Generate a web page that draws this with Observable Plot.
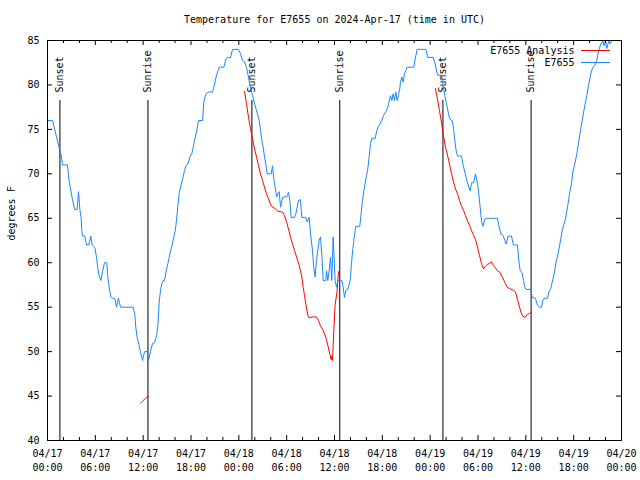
<!DOCTYPE html>
<html><head><meta charset="utf-8">
<script src="https://cdn.jsdelivr.net/npm/d3@7"></script>
<script src="https://cdn.jsdelivr.net/npm/@observablehq/plot@0.6"></script>
<style>body{margin:0;background:#fff;} svg{display:block}</style>
</head><body><div id="chart"></div>
<script>
const title = "Temperature for E7655 on 2024-Apr-17 (time in UTC)";
const yLabel = "degrees F";
const seriesNames = ["E7655 Analysis", "E7655"];
const seriesColors = ["#ff0000", "#1a86ff"];

// hours since 04/17 00:00 UTC, temperature in °F
const observed = [[0,76],[0.63,76],[1.55,72.6],[1.75,72],[1.88,71],[2.51,71],[2.68,69.4],[2.89,68.3],[3.14,67.1],[3.39,66],[3.72,66],[3.89,68],[4.06,66],[4.22,65],[4.31,63.6],[4.39,63],[4.68,63],[4.89,62],[5.18,62],[5.44,63],[5.60,62],[5.94,61.7],[6.15,60.6],[6.31,59.4],[6.48,58.5],[6.69,58],[6.90,59],[7.15,60],[7.44,60],[7.53,58.7],[7.73,57.2],[7.94,56.2],[8.15,56],[8.44,56],[8.65,55],[8.90,56],[9.16,55],[10.74,55],[10.95,54.2],[11.08,52.7],[11.25,51.6],[11.46,50.8],[11.66,50],[11.92,49],[12.17,50],[12.51,50],[12.67,49],[12.92,50],[13.17,50.9],[13.43,51],[13.68,51.8],[13.84,52.8],[13.93,54.3],[14.01,55.6],[14.18,56.9],[14.35,57.7],[14.51,58],[14.68,58],[14.85,58.9],[15.10,59.9],[15.35,61],[15.60,61.9],[15.85,62.9],[16.02,63.6],[16.19,64.8],[16.35,66.4],[16.52,67.8],[16.69,68.5],[16.94,69.4],[17.19,70.4],[17.36,70.9],[17.61,71.1],[17.86,71.9],[18.11,72.3],[18.28,73],[18.44,73.75],[18.69,74.7],[18.94,76],[19.45,76],[19.61,78.1],[19.86,79],[20.20,79.2],[20.70,79.2],[20.95,80.1],[21.20,81.1],[21.54,82],[22.12,82],[22.37,82.9],[22.62,83.1],[22.96,83.1],[23.21,84],[23.96,84],[24.21,83.5],[24.46,82.75],[24.71,82.6],[24.96,82],[25.13,81.25],[25.38,80.1],[25.72,78.8],[25.97,77.9],[26.22,77.1],[26.38,76.6],[26.55,76],[26.72,74.9],[26.89,73.75],[27.05,73],[27.22,71.9],[27.39,71.1],[27.55,70],[28.06,70],[28.22,70.9],[28.39,69.4],[28.56,68.5],[28.73,67.4],[28.89,67.75],[29.06,68],[29.23,66.25],[29.39,67],[29.56,67.4],[29.98,67.4],[30.23,67.9],[30.40,67],[30.56,65.1],[30.98,65.1],[31.15,65.5],[31.32,66.25],[31.48,67],[31.73,67.1],[31.90,65.1],[32.40,65.1],[32.57,64.6],[32.82,65.1],[32.99,63.25],[33.24,61.4],[33.41,59.3],[33.57,58.4],[33.74,60.25],[33.91,61.4],[34.08,62.5],[34.24,62.9],[34.41,61],[34.58,58],[34.91,58],[35.00,59.1],[35.16,58],[35.33,59.1],[35.50,60.6],[35.66,58],[35.83,62.9],[36.08,58],[36.25,57.25],[36.42,58],[36.92,58],[37.09,57.25],[37.25,56.1],[37.42,56.9],[37.67,57],[38.01,58.2],[38.09,59.5],[38.26,61.2],[38.42,62.5],[38.59,63.6],[38.67,64.1],[39.17,64.1],[39.34,65.5],[39.51,67],[39.68,68.1],[39.84,68.9],[40.01,69.8],[40.18,70.6],[40.35,71.9],[40.51,73.4],[40.68,74],[41.10,74],[41.27,74.7],[41.43,75.2],[41.68,75.6],[41.93,76],[42.18,76.6],[42.44,77],[42.69,77.5],[42.85,78.1],[43.02,78.8],[43.19,78.25],[43.36,79],[43.52,78.25],[43.69,79.2],[43.86,78.25],[44.02,78.8],[44.19,79.6],[44.28,80.3],[44.44,80.9],[44.61,80.3],[44.78,81.25],[44.94,81.6],[45.11,82],[45.95,82],[46.11,82.9],[46.37,84],[47.45,84],[47.70,83.1],[48.37,83.1],[48.62,82.4],[48.92,81.1],[49.42,81.1],[49.59,80.1],[49.84,78.8],[50.09,77.7],[50.34,76.6],[50.51,76.1],[50.76,76],[50.93,75.1],[51.09,73.75],[51.26,72.6],[51.43,72],[51.93,72],[52.10,71.1],[52.35,70.2],[52.60,69.25],[52.85,68.5],[53.02,68.1],[53.19,69],[53.44,69],[53.69,70],[53.94,68.9],[54.10,67.75],[54.27,66.25],[54.44,64.75],[54.61,64.1],[54.86,64.9],[55.02,65],[56.45,65],[56.61,64.2],[56.86,63.25],[57.11,63.1],[57.37,62.5],[57.53,62.1],[57.78,63],[58.20,63],[58.45,62],[58.95,62],[59.12,60.25],[59.29,59.1],[59.54,58.9],[59.71,58],[59.87,57.25],[60.04,57],[60.63,57],[60.79,56.1],[61.21,56],[61.46,55.2],[61.71,55],[61.96,55],[62.13,55.75],[62.30,56],[62.72,56],[62.88,56.7],[63.13,57.1],[63.30,57.8],[63.55,58.75],[63.80,60.1],[64.05,61],[64.31,62.3],[64.56,63.6],[64.73,64.2],[64.97,64.9],[65.23,66.25],[65.48,67.75],[65.73,68.9],[65.89,70.2],[66.14,71.1],[66.40,72.25],[66.65,73.75],[66.90,75.1],[67.15,76.4],[67.40,77.7],[67.65,78.8],[67.90,80.1],[68.15,81.25],[68.40,82],[68.65,82.2],[68.90,82.75],[69.15,83.9],[69.41,84.6],[69.66,85],[69.82,84.4],[69.99,85],[70.16,84.1],[70.41,85],[70.58,84.6],[70.83,85]];

const analysis1 = [[11.67,44.2],[12.0,44.5],[12.3,44.75],[12.7,45.0]];
const analysis2 = [[24.71,79.3],[24.96,77.9],[25.21,76.4],[25.46,75.1],[25.72,73.9],[25.97,72.8],[26.22,71.9],[26.47,70.9],[26.72,70],[26.97,69.25],[27.22,68.5],[27.47,67.75],[27.72,67.2],[27.97,66.6],[28.22,66.25],[28.56,66.1],[28.89,65.8],[29.48,65.7],[29.73,65.3],[29.98,64.6],[30.23,63.8],[30.48,62.9],[30.73,62.1],[30.98,61.4],[31.32,60.4],[31.57,59.7],[31.73,59.1],[31.90,58.4],[32.07,57.25],[32.24,56.3],[32.40,55.4],[32.65,54.1],[32.82,53.8],[33.24,53.9],[33.74,53.9],[33.99,53.5],[34.24,52.9],[34.58,52.4],[34.91,51.6],[35.16,50.7],[35.41,49.75],[35.58,49.1],[35.66,49.5],[35.75,49.0],[35.92,52.5],[36.08,55.3],[36.30,56.6],[36.50,59.0],[36.67,58.6]];
const analysis3 = [[48.67,79.6],[48.92,78.4],[49.17,77.1],[49.42,75.8],[49.67,74.3],[49.92,73],[50.17,72.1],[50.43,71.1],[50.68,70],[50.93,69.1],[51.18,68.3],[51.43,67.75],[51.68,67],[51.93,66.4],[52.18,65.9],[52.43,65.3],[52.68,64.75],[52.93,64.2],[53.19,63.6],[53.44,63.1],[53.69,62.6],[53.94,61.75],[54.19,60.8],[54.44,59.9],[54.69,59.3],[54.94,59.6],[55.19,59.8],[55.69,60.1],[55.94,59.7],[56.45,59.1],[56.78,58.9],[57.03,58.4],[57.37,57.8],[57.62,57.3],[57.95,57.1],[58.45,56.9],[58.70,56.7],[58.95,55.9],[59.20,55],[59.46,54.25],[59.71,53.9],[59.96,53.9],[60.21,54.2],[60.46,54.3],[60.71,54.4]];

const eventHours = [1.56, 12.6, 25.64, 36.66, 49.6, 60.66];
const eventLabels = ["Sunset", "Sunrise", "Sunset", "Sunrise", "Sunset", "Sunrise"];

const xTickHours = [0, 6, 12, 18, 24, 30, 36, 42, 48, 54, 60, 66, 72];
const xTickDates = ["04/17","04/17","04/17","04/17","04/18","04/18","04/18","04/18","04/19","04/19","04/19","04/19","04/20"];
const xTickTimes = ["00:00","06:00","12:00","18:00","00:00","06:00","12:00","18:00","00:00","06:00","12:00","18:00","00:00"];
const xMinorHours = [2,4,8,10,14,16,20,22,26,28,32,34,38,40,44,46,50,52,56,58,62,64,68,70];
const yTicks = [40, 45, 50, 55, 60, 65, 70, 75, 80, 85];

// ---- build tables
const obsData = observed.map(([h, t]) => ({h, t}));
const anaData = [analysis1, analysis2, analysis3].flatMap((seg, i) => seg.map(([h, t]) => ({h, t, seg: i})));
const events = eventHours.map((h, i) => ({h, label: eventLabels[i]}));

const W = 640, H = 480, mL = 47, mR = 19, mT = 40, mB = 40;
const plotW = W - mL - mR, plotH = H - mT - mB;
const majorLen = 5, minorLen = 3;

const plot = Plot.plot({
  width: W, height: H,
  marginLeft: mL, marginRight: mR, marginTop: mT, marginBottom: mB,
  x: {domain: [0, 72]},
  y: {domain: [40, 85]},
  style: {fontFamily: "'DejaVu Sans Mono', monospace", fontSize: "10px", color: "black", background: "white"},
  marks: [
    Plot.ruleX(events, {x: "h", insetTop: 60, stroke: "black", strokeWidth: 1}),
    Plot.text(events, {x: "h", text: "label", frameAnchor: "top", dy: 52, rotate: -90, textAnchor: "start", lineAnchor: "middle", fill: "black"}),
    Plot.line(anaData, {x: "h", y: "t", z: "seg", stroke: seriesColors[0], strokeWidth: 1, strokeLinejoin: "miter"}),
    Plot.line(obsData, {x: "h", y: "t", stroke: seriesColors[1], strokeWidth: 1, strokeLinejoin: "miter"}),
    // inward ticks on all four sides
    Plot.ruleX(xTickHours, {x: d => d, insetTop: plotH - majorLen, stroke: "black"}),
    Plot.ruleX(xTickHours, {x: d => d, insetBottom: plotH - majorLen, stroke: "black"}),
    Plot.ruleX(xMinorHours, {x: d => d, insetTop: plotH - minorLen, stroke: "black"}),
    Plot.ruleX(xMinorHours, {x: d => d, insetBottom: plotH - minorLen, stroke: "black"}),
    Plot.ruleY(yTicks, {y: d => d, insetRight: plotW - majorLen, stroke: "black"}),
    Plot.ruleY(yTicks, {y: d => d, insetLeft: plotW - majorLen, stroke: "black"}),
    Plot.frame({stroke: "black", strokeWidth: 1}),
    Plot.axisX(xTickHours, {tickSize: 0, tickPadding: 6, lineHeight: 1.45, label: null,
      tickFormat: d => xTickDates[xTickHours.indexOf(d)] + "\n" + xTickTimes[xTickHours.indexOf(d)]}),
    Plot.axisY(yTicks, {tickSize: 0, tickPadding: 8, label: null}),
    Plot.text([yLabel], {frameAnchor: "left", dx: -36, rotate: -90, lineAnchor: "middle", fill: "black"}),
    Plot.text([title], {frameAnchor: "top", dy: -21, lineAnchor: "middle", fill: "black"}),
    Plot.text([seriesNames[0]], {frameAnchor: "top-right", dx: -47, dy: 10, textAnchor: "end", lineAnchor: "middle", fill: "black"}),
    Plot.text([seriesNames[1]], {frameAnchor: "top-right", dx: -47, dy: 22, textAnchor: "end", lineAnchor: "middle", fill: "black"})
  ]
});

// legend line samples
const svg = d3.select(plot);
const lx1 = W - mR - 40, lx2 = W - mR - 11;
[0, 1].forEach(i => {
  svg.append("line")
    .attr("x1", lx1).attr("x2", lx2)
    .attr("y1", mT + 10 + 12 * i + 0.5).attr("y2", mT + 10 + 12 * i + 0.5)
    .attr("stroke", seriesColors[i]).attr("stroke-width", 1);
});

document.getElementById("chart").appendChild(plot);
</script>
</body></html>
